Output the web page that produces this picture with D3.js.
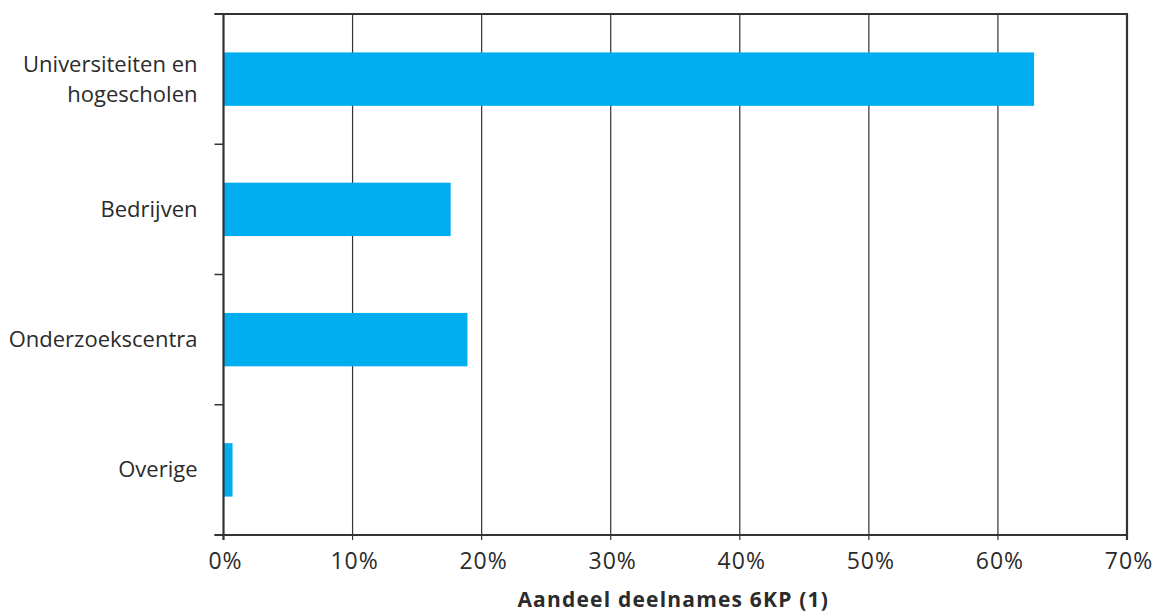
<!DOCTYPE html>
<html>
<head>
<meta charset="utf-8">
<script src="https://cdn.jsdelivr.net/npm/d3@7"></script>
<style>
  body { margin: 0; background: #fff; }
  text { font-family: "Open Sans", "Noto Sans", sans-serif; fill: #2b2b2b; }
</style>
</head>
<body>
<div id="chart"></div>
<script>
var categories = ["Universiteiten en|hogescholen", "Bedrijven", "Onderzoekscentra", "Overige"];
var values = [62.8, 17.6, 18.9, 0.7];
var xTicks = [0, 10, 20, 30, 40, 50, 60, 70];
var axisTitle = "Aandeel deelnames 6KP (1)";

var W = 1159, H = 614;
var m = {top: 14, right: 32, bottom: 79, left: 223.5};
var w = W - m.left - m.right, h = H - m.top - m.bottom;

var svg = d3.select("#chart").append("svg")
    .attr("width", W)
    .attr("height", H)
    .append("g")
    .attr("transform", "translate(" + m.left + "," + m.top + ")");

var x = d3.scaleLinear().domain([0, 70]).range([0, w]);
var y = d3.scaleBand().domain(categories).range([0, h]).paddingInner(0.59).paddingOuter(0.295);
var yb = d3.scaleBand().domain(categories).range([0, h]);

// gridlines
svg.selectAll(".grid")
    .data(xTicks.slice(1, -1))
    .enter().append("line")
    .attr("x1", function(d) { return x(d); })
    .attr("x2", function(d) { return x(d); })
    .attr("y1", 0)
    .attr("y2", h)
    .attr("stroke", "#333")
    .attr("stroke-width", 1.2);

// bars
svg.selectAll(".bar")
    .data(values)
    .enter().append("rect")
    .attr("x", x(0))
    .attr("y", function(d, i) { return y(categories[i]); })
    .attr("width", function(d) { return x(d) - x(0); })
    .attr("height", y.bandwidth())
    .attr("fill", "#00adef");

// frame: top and right
svg.append("line").attr("x1", -9).attr("x2", w + 1).attr("y1", 0).attr("y2", 0)
    .attr("stroke", "#333").attr("stroke-width", 2.2);
svg.append("line").attr("x1", w).attr("x2", w).attr("y1", 0).attr("y2", h + 5)
    .attr("stroke", "#333").attr("stroke-width", 2.2);

// y axis: boundaries ticks
var yEdges = categories.map(function(c) { return yb(c); }).concat([h]);
svg.selectAll(".ytick")
    .data(yEdges)
    .enter().append("line")
    .attr("x1", -9).attr("x2", 0)
    .attr("y1", function(d) { return d; })
    .attr("y2", function(d) { return d; })
    .attr("stroke", "#333").attr("stroke-width", 1.5);
svg.append("line").attr("x1", 0).attr("x2", 0).attr("y1", 0).attr("y2", h + 5)
    .attr("stroke", "#333").attr("stroke-width", 2.2);

// x axis
svg.append("line").attr("x1", -9).attr("x2", w + 1).attr("y1", h).attr("y2", h)
    .attr("stroke", "#333").attr("stroke-width", 2.2);
svg.selectAll(".xtick")
    .data(xTicks)
    .enter().append("line")
    .attr("x1", function(d) { return x(d); })
    .attr("x2", function(d) { return x(d); })
    .attr("y1", h).attr("y2", h + 5)
    .attr("stroke", "#333").attr("stroke-width", 1.2);
svg.selectAll(".xlabel")
    .data(xTicks)
    .enter().append("text")
    .attr("x", function(d) { return x(d) + 2; })
    .attr("y", h + 34)
    .attr("text-anchor", "middle")
    .style("font-size", "23px")
    .style("letter-spacing", "1px")
    .text(function(d) { return d + "%"; });

// category labels
var lab = svg.selectAll(".ylabel")
    .data(categories)
    .enter().append("text")
    .attr("text-anchor", "end")
    .attr("x", -26)
    .attr("y", function(d) { return yb(d) + yb.bandwidth() / 2; })
    .style("font-size", "22px");
lab.each(function(d) {
    var lines = d.split("|");
    var t = d3.select(this);
    lines.forEach(function(l, i) {
        t.append("tspan")
            .attr("x", -26)
            .attr("dy", i === 0 ? (lines.length > 1 ? -7 : 7.5) : 30)
            .text(l);
    });
});

// axis title
svg.append("text")
    .attr("x", w / 2 - 2)
    .attr("y", h + 72)
    .attr("text-anchor", "middle")
    .style("font-size", "21px")
    .style("font-weight", "bold")
    .style("letter-spacing", "1.2px")
    .text(axisTitle);
</script>
</body>
</html>
